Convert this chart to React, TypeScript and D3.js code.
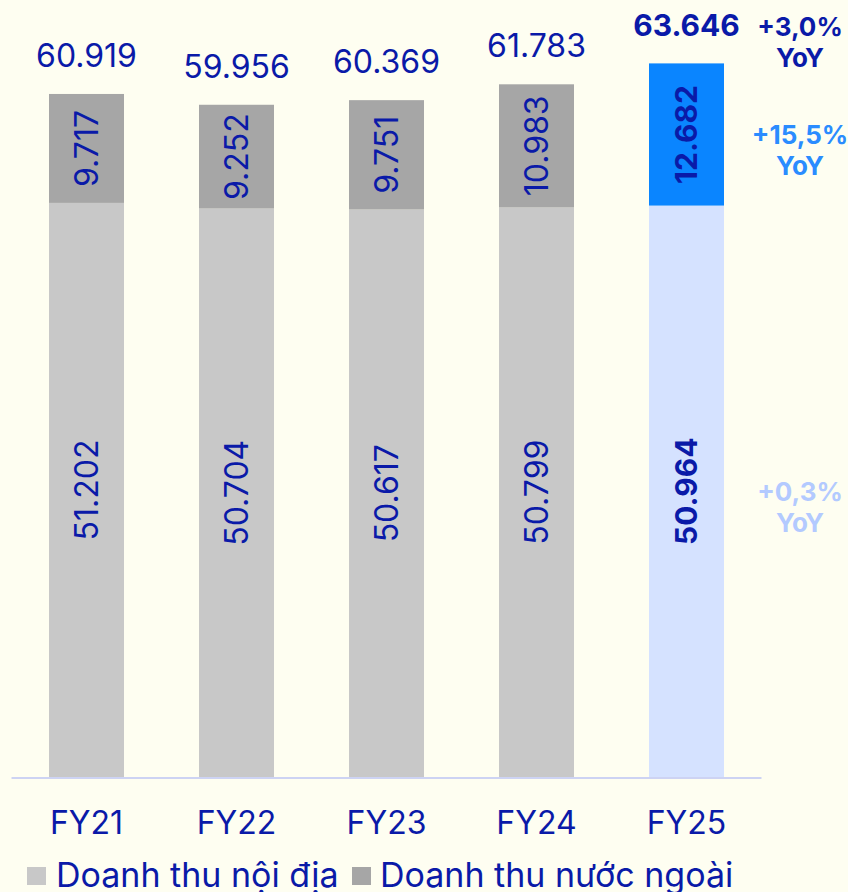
import React from 'react';
import * as d3 from 'd3';

const years = ['FY21', 'FY22', 'FY23', 'FY24', 'FY25'];
const domestic = [51202, 50704, 50617, 50799, 50964];
const foreign = [9717, 9252, 9751, 10983, 12682];
const totals = [60919, 59956, 60369, 61783, 63646];
const yoyTotal = ['+3,0%', 'YoY'];
const yoyForeign = ['+15,5%', 'YoY'];
const yoyDomestic = ['+0,3%', 'YoY'];
const legendLabels = ['Doanh thu nội địa', 'Doanh thu nước ngoài'];

const W = 848;
const H = 892;
const BG = '#fefef1';
const TXT = '#0a1aa8';
const GREY_LO = '#c8c8c8';
const GREY_HI = '#a6a6a6';
const BLUE_LO = '#d5e2ff';
const BLUE_HI = '#0a85ff';
const REG = 'Inter, sans-serif';
const BOLD = 'Inter, sans-serif';

const locale = d3.formatLocale({ decimal: ',', thousands: '.', grouping: [3], currency: ['', ''] });
const fmt = locale.format(',d');

export default function App() {
  const x = d3.scaleBand<string>().domain(years).range([11.5, 761.5]).paddingInner(0.5).paddingOuter(0.25);
  const y = d3.scaleLinear().domain([0, 69300]).range([777, 0]);
  const bw = x.bandwidth();
  const last = years.length - 1;
  const annX = 800;

  return (
    <svg width={W} height={H} style={{ position: 'absolute', left: 0, top: 0, display: 'block', background: BG }}>
      <rect x={0} y={0} width={W} height={H} fill={BG} />
      {years.map((yr, i) => {
        const isLast = i === last;
        const x0 = x(yr)!;
        const cx = x0 + bw / 2;
        const yDom = y(domestic[i]);
        const yTot = y(domestic[i] + foreign[i]);
        const font = isLast ? BOLD : REG;
        const weight = isLast ? 700 : 400;
        const fs = isLast ? 30 : 32;
        return (
          <g key={yr}>
            <rect x={x0} y={yDom} width={bw} height={y(0) - yDom} fill={isLast ? BLUE_LO : GREY_LO} />
            <rect x={x0} y={yTot} width={bw} height={yDom - yTot} fill={isLast ? BLUE_HI : GREY_HI} />
            <text
              transform={`translate(${cx},${(yDom + y(0)) / 2}) rotate(-90)`}
              textAnchor="middle"
              dy="0.36em"
              fontFamily={font}
              fontWeight={weight}
              fontSize={fs}
              fill={TXT}
            >
              {fmt(domestic[i])}
            </text>
            <text
              transform={`translate(${cx},${(yDom + yTot) / 2}) rotate(-90)`}
              textAnchor="middle"
              dy="0.36em"
              fontFamily={font}
              fontWeight={weight}
              fontSize={fs}
              fill={TXT}
            >
              {fmt(foreign[i])}
            </text>
            <text x={cx} y={y(totals[i]) - 27} textAnchor="middle" fontFamily={font} fontWeight={weight} fontSize={fs} fill={TXT}>
              {fmt(totals[i])}
            </text>
            <text x={cx} y={834} textAnchor="middle" fontFamily={REG} fontSize={32} fill={TXT}>
              {yr}
            </text>
          </g>
        );
      })}
      <line x1={11.5} x2={761.5} y1={y(0) + 1} y2={y(0) + 1} stroke="#cdd3f3" strokeWidth={2} />
      {(() => {
        const i = last;
        const tTop = y(totals[i]) - 27;
        const fMid = (y(domestic[i]) + y(domestic[i] + foreign[i])) / 2;
        const dMid = (y(domestic[i]) + y(0)) / 2;
        const blocks = [
          { lines: yoyTotal, y0: tTop, color: TXT },
          { lines: yoyForeign, y0: fMid + 10, color: '#2a8cff' },
          { lines: yoyDomestic, y0: dMid + 10, color: '#b3caff' },
        ];
        return blocks.map((b, k) => (
          <text key={k} textAnchor="middle" fontFamily={BOLD} fontWeight={700} fontSize={26} fill={b.color}>
            {b.lines.map((l, j) => (
              <tspan key={j} x={annX} y={b.y0 + j * 31}>
                {l}
              </tspan>
            ))}
          </text>
        ));
      })()}
      <rect x={27} y={867} width={19} height={18} fill={GREY_LO} />
      <text x={56} y={887} fontFamily={REG} fontSize={34} fill={TXT}>
        {legendLabels[0]}
      </text>
      <rect x={352} y={867} width={19} height={18} fill={GREY_HI} />
      <text x={380} y={887} fontFamily={REG} fontSize={34} fill={TXT}>
        {legendLabels[1]}
      </text>
    </svg>
  );
}
